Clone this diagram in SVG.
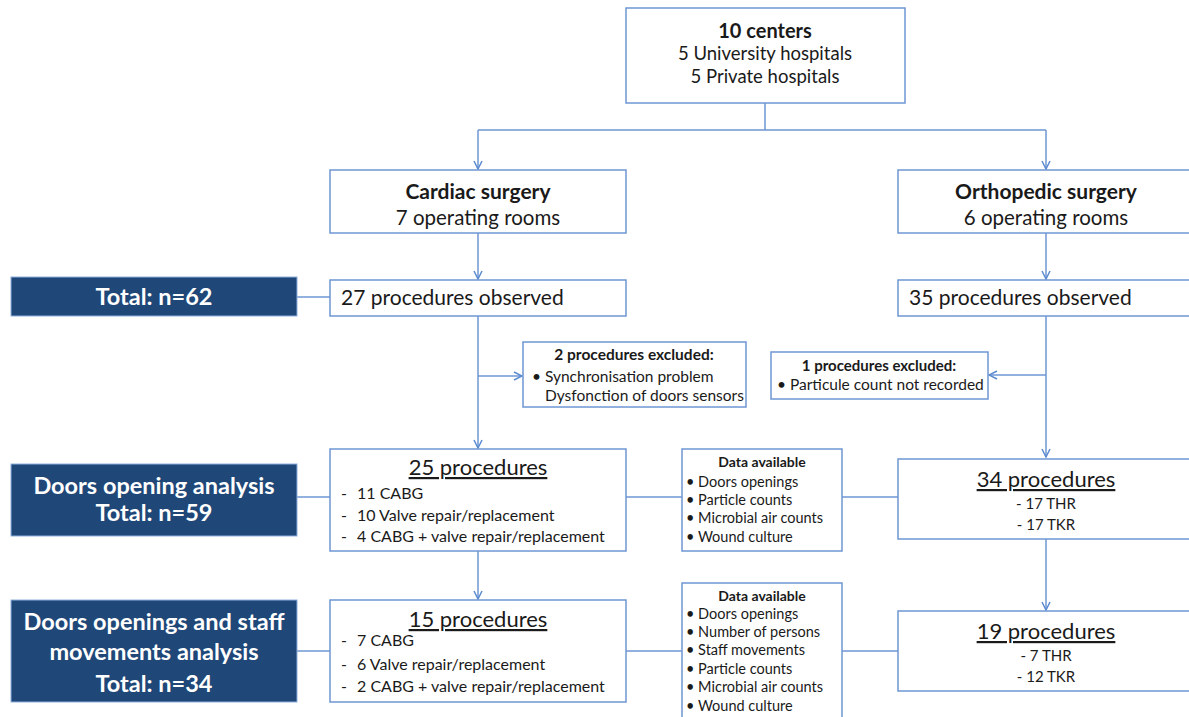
<svg xmlns="http://www.w3.org/2000/svg" width="1189" height="717" viewBox="0 0 1189 717">
<defs>
<marker id="arr" viewBox="0 0 10 10" refX="9" refY="5" markerWidth="10" markerHeight="10" markerUnits="userSpaceOnUse" orient="auto">
<path d="M1,1 L9,5 L1,9" fill="none" stroke="#5b8bd0" stroke-width="1.5"/>
</marker>
<style>
.box{fill:#fff;stroke:#6f97d3;stroke-width:1.5}
.dark{fill:#1f4778;stroke:#8fb0dc;stroke-width:1}
.ln{fill:none;stroke:#6f97d3;stroke-width:1.5}
text{font-family:Lato,"Liberation Sans",sans-serif;fill:#1a1a1a}
.c{text-anchor:middle}
.b{font-weight:bold}
.w{fill:#fff;font-weight:bold;font-size:23.5px;text-anchor:middle}
.u{text-decoration:underline}
.li{font-size:16px}
.d{font-size:14.5px}
.ex{font-size:15.5px}
</style>
</defs>
<g id="connectors">
<path class="ln" d="M765,103 V130 M478,130 H1046"/>
<path class="ln" d="M478,130 V169" marker-end="url(#arr)"/>
<path class="ln" d="M1046,130 V169" marker-end="url(#arr)"/>
<path class="ln" d="M478,233 V279" marker-end="url(#arr)"/>
<path class="ln" d="M1046,233 V279" marker-end="url(#arr)"/>
<path class="ln" d="M297,297 H330"/>
<path class="ln" d="M478,316 V448" marker-end="url(#arr)"/>
<path class="ln" d="M478,376 H522" marker-end="url(#arr)"/>
<path class="ln" d="M1046,316 V457" marker-end="url(#arr)"/>
<path class="ln" d="M1046,375 H989" marker-end="url(#arr)"/>
<path class="ln" d="M297,497 H330"/>
<path class="ln" d="M626,497 H682 M842,497 H898"/>
<path class="ln" d="M478,551 V599" marker-end="url(#arr)"/>
<path class="ln" d="M1046,539 V610" marker-end="url(#arr)"/>
<path class="ln" d="M297,651 H330"/>
<path class="ln" d="M626,651 H682 M842,651 H898"/>
</g>
<g id="centers">
<rect class="box" x="626" y="8" width="279" height="95"/>
<text class="c b" x="765" y="38" font-size="20">10 centers</text>
<text class="c" x="765" y="60" font-size="18.5">5 University hospitals</text>
<text class="c" x="765" y="83" font-size="18.5">5 Private hospitals</text>
</g>
<g id="cardiac">
<rect class="box" x="330" y="170" width="296" height="63"/>
<text class="c b" x="478" y="199" font-size="21">Cardiac surgery</text>
<text class="c" x="478" y="225" font-size="20.5">7 operating rooms</text>
</g>
<g id="ortho">
<rect class="box" x="898" y="170" width="300" height="63"/>
<text class="c b" x="1046" y="199" font-size="21">Orthopedic surgery</text>
<text class="c" x="1046" y="225" font-size="20.5">6 operating rooms</text>
</g>
<g id="total62">
<rect class="dark" x="11" y="277" width="286" height="39"/>
<text class="w" x="154" y="305">Total: n=62</text>
</g>
<g id="obs27">
<rect class="box" x="330" y="280" width="296" height="36"/>
<text x="341" y="305" font-size="21">27 procedures observed</text>
</g>
<g id="obs35">
<rect class="box" x="898" y="280" width="300" height="36"/>
<text x="909" y="305" font-size="21">35 procedures observed</text>
</g>
<g id="excl2">
<rect class="box" x="523" y="342" width="223" height="65"/>
<text class="c b" x="634" y="360" font-size="15.5">2 procedures excluded:</text>
<text class="ex" x="532" y="382">• Synchronisation problem</text>
<text class="ex" x="545" y="401">Dysfonction of doors sensors</text>
</g>
<g id="excl1">
<rect class="box" x="771" y="352" width="217" height="47"/>
<text class="c b" x="879" y="371" font-size="15">1 procedures excluded:</text>
<text class="ex" x="777" y="390">• Particule count not recorded</text>
</g>
<g id="total59">
<rect class="dark" x="11" y="464" width="286" height="72"/>
<text class="w" x="154" y="494">Doors opening analysis</text>
<text class="w" x="154" y="521">Total: n=59</text>
</g>
<g id="p25">
<rect class="box" x="330" y="449" width="296" height="102"/>
<text class="c u" x="478" y="475" font-size="22">25 procedures</text>
<text class="li" x="341" y="499">-</text><text class="li" x="357" y="499">11 CABG</text>
<text class="li" x="341" y="521">-</text><text class="li" x="357" y="521">10 Valve repair/replacement</text>
<text class="li" x="341" y="542">-</text><text class="li" x="357" y="542">4 CABG + valve repair/replacement</text>
</g>
<g id="data1">
<rect class="box" x="682" y="449" width="160" height="102"/>
<text class="c b" x="762" y="467" font-size="14">Data available</text>
<text class="d" x="686" y="487">• Doors openings</text>
<text class="d" x="686" y="505">• Particle  counts</text>
<text class="d" x="686" y="523">• Microbial air counts</text>
<text class="d" x="686" y="542">• Wound culture</text>
</g>
<g id="p34">
<rect class="box" x="898" y="459" width="300" height="80"/>
<text class="c u" x="1046" y="487" font-size="22">34 procedures</text>
<text class="c" x="1046" y="509" font-size="15">- 17 THR</text>
<text class="c" x="1046" y="530" font-size="15">- 17 TKR</text>
</g>
<g id="total34">
<rect class="dark" x="11" y="600" width="286" height="102"/>
<text class="w" x="154" y="630">Doors openings and staff</text>
<text class="w" x="154" y="660">movements analysis</text>
<text class="w" x="154" y="692">Total: n=34</text>
</g>
<g id="p15">
<rect class="box" x="330" y="600" width="296" height="102"/>
<text class="c u" x="478" y="627" font-size="22">15 procedures</text>
<text class="li" x="341" y="646">-</text><text class="li" x="357" y="646">7 CABG</text>
<text class="li" x="341" y="670">-</text><text class="li" x="357" y="670">6 Valve repair/replacement</text>
<text class="li" x="341" y="692">-</text><text class="li" x="357" y="692">2 CABG + valve repair/replacement</text>
</g>
<g id="data2">
<rect class="box" x="682" y="583" width="160" height="140"/>
<text class="c b" x="762" y="601" font-size="14">Data available</text>
<text class="d" x="686" y="619">• Doors openings</text>
<text class="d" x="686" y="637">• Number of persons</text>
<text class="d" x="686" y="655">• Staff movements</text>
<text class="d" x="686" y="674">• Particle  counts</text>
<text class="d" x="686" y="692">• Microbial air counts</text>
<text class="d" x="686" y="711">• Wound culture</text>
</g>
<g id="p19">
<rect class="box" x="898" y="611" width="300" height="80"/>
<text class="c u" x="1046" y="639" font-size="22">19 procedures</text>
<text class="c" x="1046" y="661" font-size="15">- 7 THR</text>
<text class="c" x="1046" y="682" font-size="15">- 12 TKR</text>
</g>
</svg>
